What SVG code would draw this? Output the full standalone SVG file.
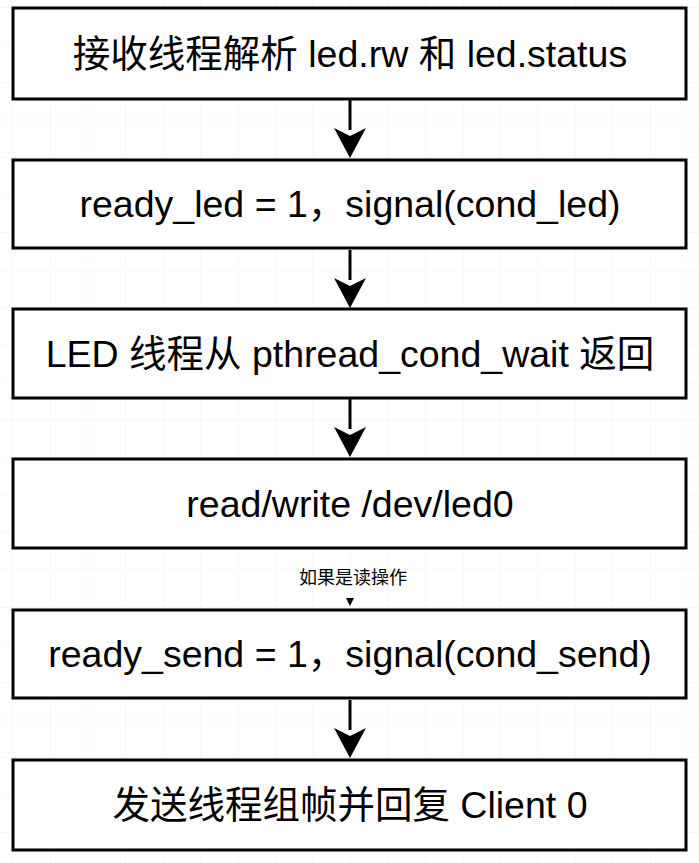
<svg xmlns="http://www.w3.org/2000/svg" width="699" height="863" viewBox="0 0 699 863">
<defs>
<pattern id="g" x="12.5" y="7" width="37.5" height="37.5" patternUnits="userSpaceOnUse"><path d="M0 0H37.5M0 0V37.5" fill="none" stroke="#efefef" stroke-width="1"/></pattern>
</defs>
<style>
.b{fill:#fff;stroke:#000;stroke-width:3}
.t{font-family:"Liberation Sans","Noto Sans CJK SC",sans-serif;font-size:37.5px;text-anchor:middle;fill:#000}
.c{stroke:#000;stroke-width:3;fill:none}
</style>
<rect width="699" height="863" fill="#fff"/>
<rect width="699" height="863" fill="url(#g)"/>
<g id="connectors">
<path class="c" d="M350 100V130"/><path d="M334 128L350 158L366 128L350 136Z"/>
<path class="c" d="M350 250V280"/><path d="M334 278L350 308L366 278L350 286Z"/>
<path class="c" d="M350 399V429"/><path d="M334 427L350 457L366 427L350 435Z"/>
<path d="M346 598L354 598L350 606Z"/>
<text x="353" y="584" style="font-family:'Liberation Sans','Noto Sans CJK SC',sans-serif;font-size:18px;text-anchor:middle">如果是读操作</text>
<path class="c" d="M350 700V730"/><path d="M334 728L350 758L366 728L350 736Z"/>
</g>
<g id="n1"><rect class="b" x="13" y="8" width="673" height="91"/><text class="t" x="350" y="67">接收线程解析 led.rw 和 led.status</text></g>
<g id="n2"><rect class="b" x="13" y="160" width="673" height="88"/><text class="t" x="350" y="217">ready_led = 1，signal(cond_led)</text></g>
<g id="n3"><rect class="b" x="13" y="309" width="673" height="89"/><text class="t" x="350" y="367">LED 线程从 pthread_cond_wait 返回</text></g>
<g id="n4"><rect class="b" x="13" y="459" width="673" height="89"/><text class="t" x="350" y="517">read/write /dev/led0</text></g>
<g id="n5"><rect class="b" x="13" y="610" width="673" height="88"/><text class="t" x="350" y="667">ready_send = 1，signal(cond_send)</text></g>
<g id="n6"><rect class="b" x="13" y="760" width="673" height="90"/><text class="t" x="350" y="818">发送线程组帧并回复 Client 0</text></g>
</svg>
